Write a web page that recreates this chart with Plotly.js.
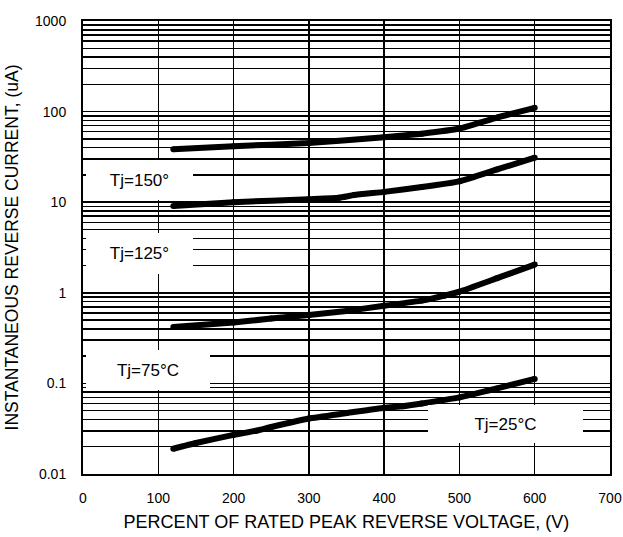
<!DOCTYPE html>
<html>
<head>
<meta charset="utf-8">
<script src="https://cdn.plot.ly/plotly-3.0.1.min.js"></script>
<style>html,body{margin:0;padding:0;background:#fff;}#chart{width:623px;height:537px;}</style>
</head>
<body>
<div id="chart"></div>
<script>
// Data
var x150 = [120, 200, 300, 400, 450, 500, 550, 600];
var y150 = [38.5, 41.5, 45, 52, 57, 65, 86, 110];

var x125 = [120, 200, 300, 340, 360, 400, 450, 500, 550, 600];
var y125 = [9.1, 10.0, 10.8, 11.2, 12.0, 13.0, 14.7, 17.0, 23, 31];

var x75 = [120, 200, 250, 300, 350, 400, 450, 480, 500, 550, 600];
var y75 = [0.42, 0.47, 0.52, 0.57, 0.63, 0.72, 0.82, 0.93, 1.03, 1.45, 2.05];

var x25 = [120, 150, 200, 230, 250, 300, 350, 400, 425, 450, 500, 550, 600];
var y25 = [0.019, 0.022, 0.027, 0.030, 0.033, 0.041, 0.047, 0.054, 0.056, 0.060, 0.070, 0.088, 0.112];

var yTickVals = [0.01, 0.1, 1, 10, 100, 1000];
var yTickText = ['0.01', '0.1', '1', '10', '100', '1000'];
var xTickVals = [0, 100, 200, 300, 400, 500, 600, 700];

var labels = ['Tj=150°', 'Tj=125°', 'Tj=75°C', 'Tj=25°C'];

var FONT = 'Liberation Sans, Arial, sans-serif';

function curve(x, y) {
  return {
    x: x, y: y, type: 'scatter', mode: 'lines+markers',
    line: {color: '#000', width: 6, shape: 'spline', smoothing: 0.4},
    marker: {color: '#000', size: 6},
    hoverinfo: 'skip', showlegend: false
  };
}

var data = [curve(x150, y150), curve(x125, y125), curve(x75, y75), curve(x25, y25)];

// plot area: left 83, right 610, top 21, bottom 474
function px2paperX(p) { return (p - 83) / 527; }
function px2paperY(p) { return (474 - p) / 453; }

function box(text, cx, cy, w, h) {
  return {
    text: text, xref: 'paper', yref: 'paper',
    x: px2paperX(cx), y: px2paperY(cy), xanchor: 'center', yanchor: 'middle',
    showarrow: false, bgcolor: '#fff', borderpad: 0, borderwidth: 0,
    width: w, height: h, align: 'center', valign: 'middle',
    font: {family: FONT, size: 17, color: '#000'}
  };
}

var layout = {
  width: 623, height: 537,
  margin: {l: 83, r: 13, t: 21, b: 63},
  paper_bgcolor: '#fff', plot_bgcolor: '#fff',
  font: {family: FONT, color: '#000'},
  xaxis: {
    range: [0, 700], tickvals: xTickVals, ticks: '',
    showgrid: true, gridcolor: '#000', gridwidth: 1.5,
    showline: true, linecolor: '#000', linewidth: 2, mirror: true,
    zeroline: false, ticklabelstandoff: 10,
    tickfont: {family: FONT, size: 14, color: '#000'},
    title: {text: 'PERCENT OF RATED PEAK REVERSE VOLTAGE, (V)', font: {family: FONT, size: 18, color: '#000'}, standoff: 11}
  },
  yaxis: {
    type: 'log', range: [-2, 3], tickvals: yTickVals, ticktext: yTickText, ticks: '',
    showgrid: true, gridcolor: '#000', gridwidth: 1.5,
    minor: {dtick: 'D1', showgrid: true, gridcolor: '#000', gridwidth: 1.5, ticks: ''},
    showline: true, linecolor: '#000', linewidth: 2, mirror: true,
    zeroline: false, ticklabelstandoff: 12,
    tickfont: {family: FONT, size: 14, color: '#000'},
    title: {text: 'INSTANTANEOUS REVERSE CURRENT, (uA)', font: {family: FONT, size: 17.5, color: '#000'}, standoff: 12}
  },
  annotations: [
    box(labels[0], 139.5, 180, 107, 40),
    box(labels[1], 139.5, 253.5, 107, 41),
    box(labels[2], 148, 370, 124, 40),
    box(labels[3], 505.5, 424, 155, 38)
  ]
};

Plotly.newPlot('chart', data, layout, {displayModeBar: false, staticPlot: true});
</script>
</body>
</html>
